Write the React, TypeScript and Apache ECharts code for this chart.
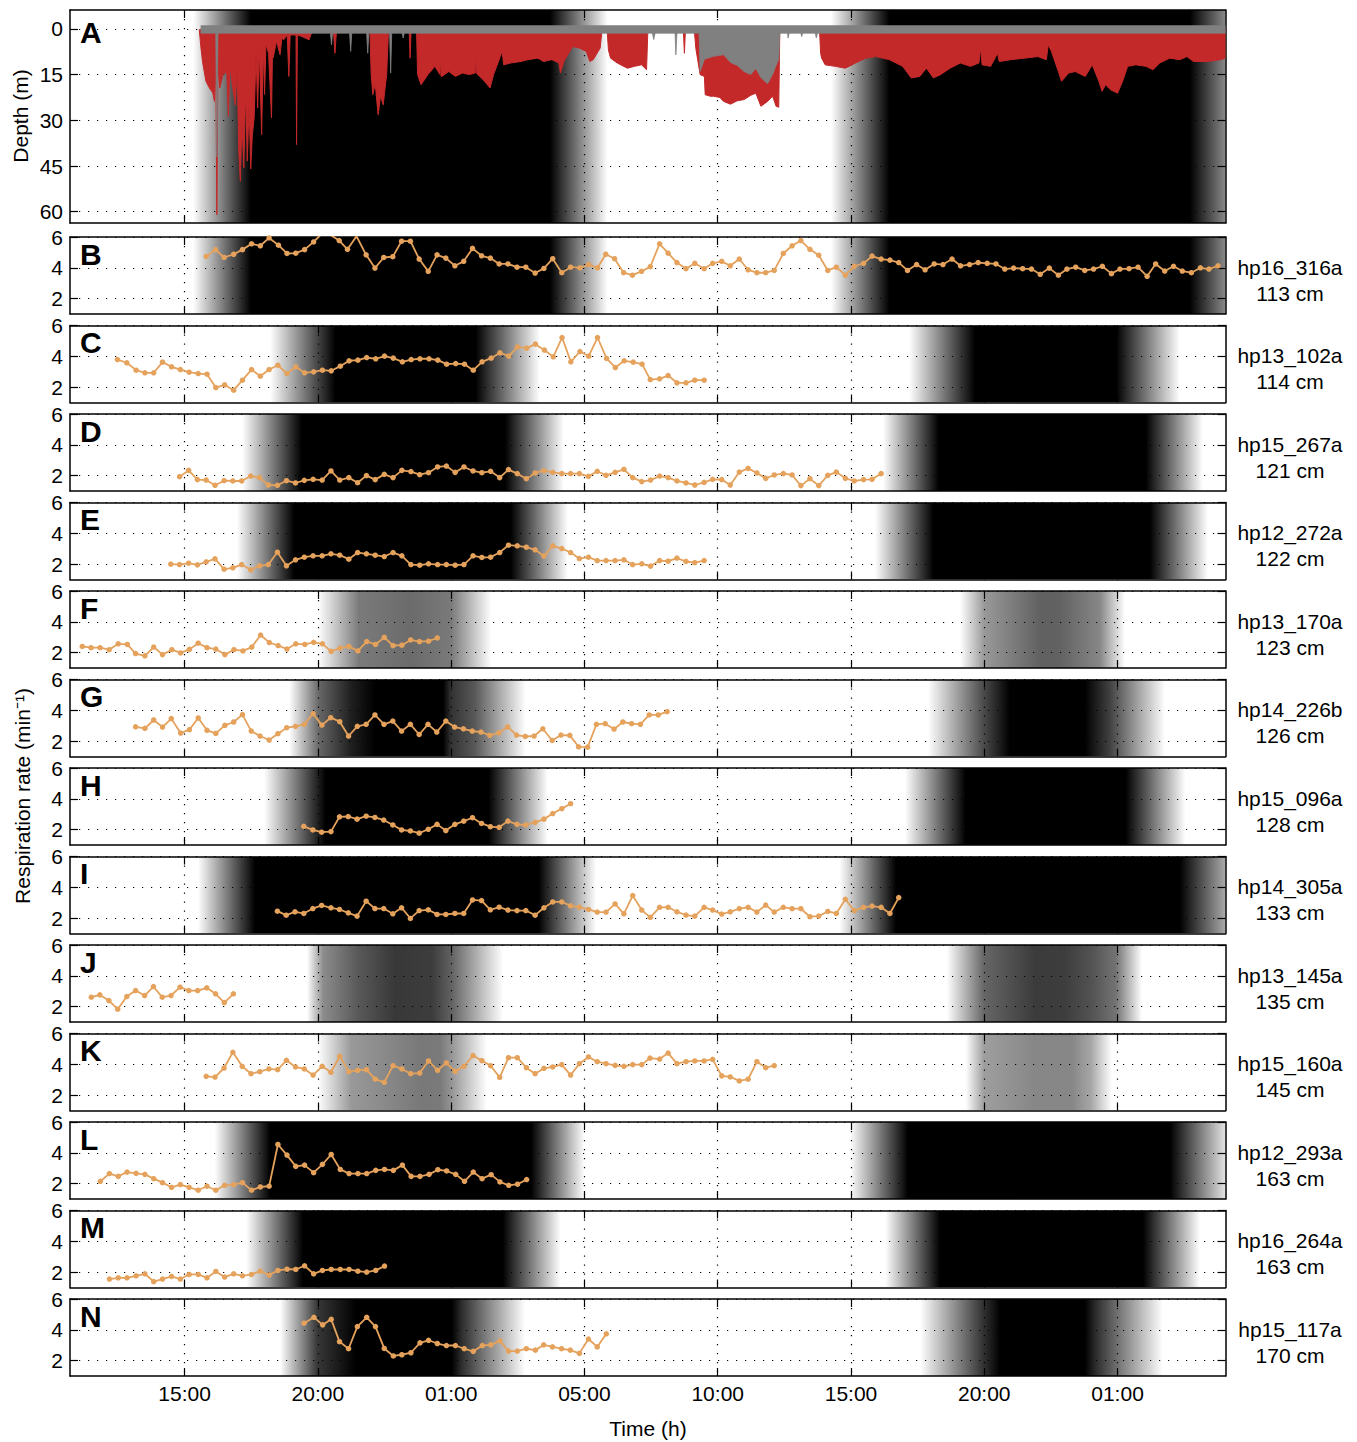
import React, { useEffect, useRef } from "react";
import * as echarts from "echarts";

const X_MIN = -4.3;
const X_MAX = 39.05;
const FONT = '"Liberation Sans", Arial, Helvetica, sans-serif';
const ORANGE = "#e5a25c";
const RED = "#c4292a";
const GRAY = "#808080";

const xTickValues = [0, 5, 10, 15, 20, 25, 30, 35];
const xTickLabels = ["15:00", "20:00", "01:00", "05:00", "10:00", "15:00", "20:00", "01:00"];
const depthTicks = [0, 15, 30, 45, 60];
const rateTicks = [2, 4, 6];

// Panel A: dive depth (m) vs time (h from first 15:00)
const diveRed = [
  [0.55,0.3],[0.61,6],[0.67,10.7],[0.8,17.2],[0.93,19.4],[1.06,21],[1.12,23.8],[1.17,12],[1.21,61],[1.25,12],[1.32,19.4],[1.44,15],[1.58,14],[1.64,28.7],[1.7,12],[1.77,17],[1.9,25],[1.97,12],[2.03,40],[2.09,50],[2.15,30],[2.22,45.6],[2.29,20],[2.35,43.4],[2.42,25],[2.48,46],[2.54,35],[2.61,29],[2.68,8],[2.74,26],[2.8,6],[2.89,34.7],[2.95,6],[3.0,21.5],[3.05,5],[3.15,8],[3.26,29.2],[3.3,5],[3.32,9.5],[3.45,4],[3.58,8.5],[3.65,3],[3.71,3.6],[3.85,2],[3.91,15.6],[3.96,2],[4.18,2],[4.2,38],[4.23,2],[4.4,2.5],[4.67,3.6],[4.8,0.3],
  [5.58,0.3],[5.64,8],[5.7,0.3],[6.95,0.3],[7.0,15],[7.06,21.6],[7.15,18],[7.26,28.2],[7.35,22],[7.45,24.9],[7.58,15],[7.65,0.3],[8.42,0.3],[8.46,9.6],[8.5,0.3],[8.7,0.3],[8.74,15],[8.87,18.3],[9.13,15],[9.39,12.3],[9.58,15],[9.6,8],[9.62,15.6],[9.65,15.6],[9.91,14],[10.16,15.6],[10.42,14.5],[10.68,15],[10.9,14.5],[10.92,6],[10.94,14.5],[11.2,16.7],[11.46,19.4],[11.59,15],[11.71,12.3],[11.91,7.4],[11.97,11.8],[12.23,11.2],[12.62,10.7],[12.88,10.1],[13.26,9.6],[13.46,10.7],[13.78,10.1],[14.04,11.2],[14.1,14.5],[14.23,10.7],[14.56,5.8],[14.81,6.3],[15.07,7.4],[15.2,10.7],[15.33,10.1],[15.59,6.3],[15.66,0.3],
  [15.85,0.3],[15.9,7],[15.98,9.6],[16.23,11.2],[16.61,12.9],[16.88,12.3],[17.14,11.8],[17.33,13.4],[17.38,0.3],[18.71,0.3],[18.75,8],[18.79,0.3],[19.12,0.3],[19.18,6.5],[19.34,15],[19.5,15.6],[19.53,21.6],[19.72,22.1],[19.84,22.1],[20.08,22.5],[20.22,23.8],[20.48,24.7],[20.73,23.6],[20.99,23.2],[21.24,21.8],[21.43,21.1],[21.62,25.4],[21.87,23.8],[22.06,22.1],[22.19,25.4],[22.29,25.7],[22.33,0.3],
  [23.82,0.3],[23.86,8],[23.9,9.6],[24.03,11.8],[24.41,12.3],[24.79,12.9],[25.17,11.2],[25.55,9.6],[25.93,9.1],[26.44,10.1],[26.94,12.3],[27.26,16.1],[27.58,15.6],[27.83,12.9],[28.09,16.1],[28.34,15.1],[28.72,12.9],[29.1,11.2],[29.48,12.3],[29.8,11.2],[29.86,6.3],[29.92,11.8],[30.24,12.3],[30.5,8],[30.56,10.7],[31.0,10.1],[31.51,9.6],[32.01,9.1],[32.33,10.1],[32.4,5.2],[32.52,7.4],[32.78,14],[32.9,17.2],[33.16,14.5],[33.41,14],[33.79,15.6],[34.05,11.8],[34.3,17.2],[34.42,20.5],[34.55,18.3],[34.74,20],[35.0,21.1],[35.19,17.2],[35.38,12.3],[35.69,11.8],[36.07,12.3],[36.33,13.4],[36.58,11.2],[36.96,9.6],[37.34,10.1],[37.6,9.1],[37.85,10.7],[38.36,10.7],[38.87,10.1],[39.05,9.6]
];
const diveGray = [
  [0.6,1.4],[1.17,1.4],[1.21,42],[1.25,1.4],[5.47,1.4],[5.51,5.2],[5.55,1.4],[6.19,1.4],[6.23,7.4],[6.27,1.4],[6.83,1.4],[6.87,8],[6.91,1.4],[7.69,1.4],[7.73,14.5],[7.77,1.4],[8.16,1.4],[8.2,3],[8.24,1.4],[17.55,1.4],[17.6,3.5],[17.65,1.4],[18.4,1.4],[18.43,8.5],[18.47,1.4],[19.3,1.4],[19.34,14],[19.5,10],[19.84,9],[20.22,8.5],[20.48,11],[20.73,12],[20.99,14],[21.24,15],[21.43,13],[21.62,16],[21.87,18],[22.06,15],[22.19,12],[22.29,10],[22.33,1.4],[22.62,1.4],[22.64,3],[22.68,1.4],[23.12,1.4],[23.15,2.5],[23.19,1.4],[23.66,1.4],[23.7,3],[23.74,1.4],[39.05,1.4]
];

// Respiration rates (min^-1)
const rateB = [[0.81,4.74],[1.16,5.18],[1.48,4.67],[1.84,4.88],[2.17,5.18],[2.51,5.56],[2.84,5.43],[3.17,5.94],[3.52,5.47],[3.84,4.93],[4.17,4.95],[4.5,5.18],[4.84,5.68],[5.17,6.25],[5.5,6.1],[5.8,5.77],[6.11,5.2],[6.45,6.05],[6.81,4.84],[7.14,3.98],[7.47,4.67],[7.81,4.72],[8.14,5.73],[8.47,5.73],[8.8,4.57],[9.14,3.77],[9.47,4.84],[9.8,4.63],[10.14,4.13],[10.47,4.42],[10.8,5.26],[11.14,4.78],[11.47,4.63],[11.8,4.25],[12.13,4.25],[12.47,4.04],[12.8,4.04],[13.15,3.66],[13.48,3.96],[13.81,4.59],[14.15,3.68],[14.48,4.04],[14.83,4.0],[15.16,4.21],[15.49,4.0],[15.8,4.88],[16.13,4.59],[16.47,3.68],[16.8,3.52],[17.14,3.77],[17.47,4.07],[17.82,5.56],[18.14,4.95],[18.47,4.34],[18.81,3.94],[19.14,4.29],[19.49,3.94],[19.81,4.29],[20.15,4.42],[20.47,4.13],[20.81,4.57],[21.14,3.87],[21.47,3.68],[21.8,3.68],[22.12,3.83],[22.46,4.93],[22.79,5.43],[23.12,5.77],[23.46,5.2],[23.79,4.82],[24.13,3.83],[24.45,4.04],[24.79,3.52],[25.12,4.1],[25.47,4.29],[25.79,4.76],[26.13,4.57],[26.46,4.5],[26.79,4.34],[27.12,3.83],[27.46,4.21],[27.78,3.87],[28.12,4.25],[28.45,4.21],[28.79,4.57],[29.11,4.13],[29.45,4.21],[29.77,4.34],[30.11,4.29],[30.44,4.25],[30.77,3.92],[31.1,3.98],[31.44,3.94],[31.77,3.92],[32.1,3.58],[32.44,3.98],[32.78,3.52],[33.1,3.92],[33.43,4.04],[33.77,3.83],[34.1,3.92],[34.43,4.1],[34.77,3.62],[35.09,3.92],[35.43,3.94],[35.77,4.04],[36.11,3.45],[36.43,4.25],[36.77,3.79],[37.1,4.1],[37.43,3.79],[37.77,3.68],[38.11,4.0],[38.43,3.92],[38.77,4.13]];
const rateC = [[-2.52,3.79],[-2.17,3.58],[-1.82,3.1],[-1.49,2.93],[-1.16,2.93],[-0.83,3.62],[-0.49,3.32],[-0.16,3.14],[0.17,2.97],[0.51,2.88],[0.84,2.84],[1.17,1.97],[1.5,2.15],[1.84,1.8],[2.17,2.45],[2.51,3.14],[2.84,2.71],[3.17,3.14],[3.5,3.42],[3.84,2.88],[4.17,3.32],[4.5,2.93],[4.84,2.99],[5.17,3.1],[5.5,3.06],[5.84,3.36],[6.17,3.71],[6.5,3.75],[6.83,3.92],[7.17,3.84],[7.5,4.01],[7.83,3.88],[8.17,3.64],[8.5,3.79],[8.83,3.84],[9.17,3.84],[9.5,3.75],[9.83,3.49],[10.17,3.53],[10.5,3.49],[10.83,3.1],[11.16,3.64],[11.5,3.88],[11.83,4.23],[12.16,4.01],[12.49,4.61],[12.83,4.53],[13.16,4.79],[13.5,4.4],[13.83,3.97],[14.16,5.22],[14.49,3.64],[14.83,4.31],[15.16,4.01],[15.49,5.22],[15.83,3.86],[16.16,3.27],[16.49,3.71],[16.83,3.62],[17.16,3.49],[17.47,2.49],[17.82,2.54],[18.14,2.75],[18.47,2.28],[18.81,2.28],[19.14,2.45],[19.49,2.45]];
const rateD = [[-0.19,1.93],[0.15,2.34],[0.48,1.74],[0.81,1.71],[1.14,1.37],[1.48,1.67],[1.81,1.65],[2.14,1.65],[2.48,1.97],[2.81,1.87],[3.14,1.39],[3.48,1.37],[3.82,1.67],[4.16,1.52],[4.49,1.69],[4.82,1.76],[5.16,1.71],[5.49,2.3],[5.82,1.71],[6.16,1.87],[6.49,1.54],[6.82,2.0],[7.15,1.74],[7.49,2.08],[7.82,1.87],[8.15,2.34],[8.49,2.26],[8.82,2.06],[9.15,2.19],[9.49,2.56],[9.82,2.62],[10.15,2.21],[10.48,2.56],[10.82,2.3],[11.15,2.19],[11.48,2.28],[11.82,1.87],[12.15,2.39],[12.48,2.13],[12.82,1.8],[13.15,2.17],[13.48,2.32],[13.81,2.21],[14.15,2.13],[14.48,2.13],[14.81,2.13],[15.15,1.95],[15.48,2.28],[15.81,2.02],[16.15,2.21],[16.48,2.41],[16.81,1.87],[17.15,1.61],[17.48,1.71],[17.82,1.97],[18.14,1.87],[18.47,1.65],[18.81,1.52],[19.14,1.39],[19.49,1.56],[19.81,1.76],[20.15,1.74],[20.47,1.39],[20.81,2.23],[21.14,2.47],[21.47,2.17],[21.8,1.82],[22.12,2.04],[22.46,2.13],[22.79,2.04],[23.12,1.35],[23.46,1.8],[23.79,1.35],[24.13,2.02],[24.45,2.23],[24.79,1.82],[25.12,1.65],[25.47,1.74],[25.79,1.76],[26.13,2.13]];
const rateE = [[-0.52,2.0],[-0.19,1.97],[0.15,2.06],[0.48,1.95],[0.81,2.15],[1.14,2.34],[1.48,1.67],[1.81,1.76],[2.14,1.97],[2.48,1.63],[2.81,1.89],[3.14,1.97],[3.48,2.77],[3.82,1.89],[4.16,2.28],[4.49,2.45],[4.82,2.54],[5.16,2.54],[5.49,2.67],[5.82,2.58],[6.16,2.32],[6.49,2.75],[6.82,2.67],[7.15,2.58],[7.49,2.49],[7.82,2.75],[8.15,2.54],[8.49,1.97],[8.82,1.93],[9.15,2.02],[9.49,1.97],[9.82,1.97],[10.15,1.93],[10.48,1.97],[10.82,2.54],[11.15,2.43],[11.48,2.45],[11.82,2.75],[12.15,3.23],[12.48,3.19],[12.82,3.1],[13.15,2.93],[13.48,2.52],[13.81,3.19],[14.15,3.01],[14.48,2.75],[14.81,2.36],[15.15,2.45],[15.48,2.23],[15.81,2.23],[16.15,2.23],[16.48,2.28],[16.81,1.97],[17.15,2.02],[17.48,1.87],[17.82,2.23],[18.14,2.19],[18.47,2.39],[18.81,2.17],[19.14,2.1],[19.49,2.23]];
const rateF = [[-3.84,2.4],[-3.51,2.32],[-3.17,2.32],[-2.83,2.19],[-2.49,2.57],[-2.15,2.53],[-1.84,1.94],[-1.49,1.79],[-1.16,2.36],[-0.83,1.87],[-0.48,2.19],[-0.15,1.98],[0.18,2.21],[0.51,2.61],[0.84,2.32],[1.17,2.23],[1.51,1.87],[1.85,2.19],[2.19,2.11],[2.52,2.36],[2.85,3.14],[3.18,2.65],[3.51,2.46],[3.84,2.23],[4.17,2.57],[4.51,2.53],[4.84,2.67],[5.17,2.57],[5.5,2.08],[5.83,2.29],[6.16,2.4],[6.5,2.11],[6.83,2.72],[7.16,2.53],[7.49,2.99],[7.82,2.46],[8.15,2.48],[8.48,2.82],[8.81,2.72],[9.15,2.74],[9.48,2.95]];
const rateG = [[-1.84,2.93],[-1.49,2.83],[-1.16,3.37],[-0.83,2.91],[-0.5,3.46],[-0.15,2.52],[0.18,2.74],[0.51,3.5],[0.84,2.7],[1.17,2.5],[1.51,3.02],[1.84,3.24],[2.17,3.72],[2.5,2.65],[2.83,2.33],[3.17,2.07],[3.5,2.48],[3.83,2.87],[4.16,2.96],[4.49,3.09],[4.82,3.78],[5.15,3.04],[5.48,3.52],[5.82,3.26],[6.15,2.33],[6.48,2.96],[6.81,3.09],[7.14,3.7],[7.48,3.09],[7.81,3.3],[8.14,2.65],[8.47,3.09],[8.8,2.43],[9.13,3.09],[9.46,2.59],[9.8,3.3],[10.13,2.91],[10.46,2.8],[10.79,2.65],[11.12,2.59],[11.45,2.37],[11.79,2.54],[12.12,2.93],[12.45,2.39],[12.78,2.3],[13.11,2.33],[13.44,2.8],[13.79,2.04],[14.12,2.39],[14.45,2.37],[14.78,1.63],[15.12,1.61],[15.45,3.09],[15.78,3.13],[16.11,2.78],[16.44,3.24],[16.77,3.13],[17.1,3.09],[17.43,3.7],[17.77,3.7],[18.1,3.91]];
const rateH = [[4.47,2.21],[4.81,1.98],[5.14,1.83],[5.49,1.87],[5.81,2.83],[6.14,2.85],[6.47,2.68],[6.81,2.87],[7.14,2.79],[7.47,2.62],[7.81,2.3],[8.14,1.98],[8.47,1.91],[8.8,1.77],[9.14,2.02],[9.47,2.34],[9.8,1.94],[10.14,2.34],[10.47,2.55],[10.8,2.77],[11.14,2.4],[11.47,2.19],[11.8,2.15],[12.13,2.55],[12.47,2.34],[12.8,2.3],[13.15,2.47],[13.48,2.68],[13.81,3.04],[14.15,3.36],[14.48,3.68]];
const rateI = [[3.48,2.45],[3.81,2.19],[4.14,2.41],[4.47,2.3],[4.81,2.62],[5.14,2.82],[5.49,2.67],[5.81,2.56],[6.14,2.34],[6.47,2.13],[6.81,3.1],[7.14,2.62],[7.47,2.62],[7.81,2.28],[8.14,2.67],[8.47,1.98],[8.8,2.49],[9.14,2.54],[9.47,2.24],[9.8,2.24],[10.14,2.3],[10.47,2.3],[10.8,3.18],[11.14,3.14],[11.47,2.54],[11.8,2.71],[12.13,2.52],[12.47,2.49],[12.8,2.49],[13.15,2.19],[13.48,2.67],[13.81,3.05],[14.15,3.05],[14.48,2.8],[14.81,2.71],[15.15,2.56],[15.48,2.39],[15.81,2.39],[16.15,2.92],[16.48,2.28],[16.81,3.46],[17.15,2.52],[17.47,2.05],[17.82,2.7],[18.14,2.7],[18.47,2.41],[18.81,2.2],[19.14,2.13],[19.49,2.7],[19.81,2.52],[20.15,2.26],[20.47,2.41],[20.81,2.61],[21.14,2.7],[21.47,2.39],[21.8,2.85],[22.12,2.39],[22.46,2.7],[22.79,2.61],[23.12,2.61],[23.46,2.09],[23.79,2.13],[24.13,2.43],[24.45,2.3],[24.79,3.22],[25.12,2.48],[25.47,2.7],[25.79,2.78],[26.13,2.7],[26.46,2.3],[26.79,3.33]];
const rateJ = [[-3.5,2.61],[-3.18,2.76],[-2.84,2.39],[-2.51,1.83],[-2.17,2.65],[-1.84,3.04],[-1.5,2.72],[-1.17,3.3],[-0.84,2.61],[-0.51,2.72],[-0.17,3.26],[0.16,3.04],[0.49,3.04],[0.83,3.22],[1.16,2.83],[1.49,2.26],[1.83,2.83]];
const rateK = [[0.81,3.22],[1.14,3.17],[1.48,3.76],[1.81,4.78],[2.16,3.87],[2.49,3.39],[2.82,3.52],[3.16,3.7],[3.49,3.65],[3.82,4.26],[4.16,3.83],[4.49,3.7],[4.82,3.3],[5.16,3.87],[5.49,3.48],[5.82,4.52],[6.16,3.52],[6.49,3.61],[6.82,3.65],[7.15,3.04],[7.49,2.83],[7.82,3.91],[8.15,3.7],[8.48,3.39],[8.82,3.43],[9.15,4.22],[9.49,3.61],[9.82,4.09],[10.15,3.54],[10.48,3.87],[10.82,4.57],[11.15,4.24],[11.48,3.91],[11.82,3.15],[12.15,4.43],[12.48,4.43],[12.82,3.78],[13.15,3.39],[13.48,3.74],[13.81,3.83],[14.15,3.98],[14.48,3.3],[14.81,4.04],[15.15,4.48],[15.48,4.17],[15.81,4.04],[16.15,3.93],[16.48,3.87],[16.81,3.98],[17.15,3.98],[17.46,4.4],[17.82,4.34],[18.14,4.73],[18.47,4.04],[18.81,4.17],[19.14,4.22],[19.49,4.22],[19.81,4.32],[20.15,3.25],[20.47,3.18],[20.81,2.92],[21.14,3.03],[21.47,4.17],[21.8,3.78],[22.12,3.91]];
const rateL = [[-3.16,2.15],[-2.82,2.65],[-2.49,2.47],[-2.16,2.75],[-1.82,2.67],[-1.49,2.6],[-1.16,2.32],[-0.83,2.06],[-0.49,1.76],[-0.16,1.94],[0.17,1.76],[0.51,1.57],[0.84,1.83],[1.17,1.57],[1.5,1.89],[1.84,1.94],[2.17,2.06],[2.51,1.57],[2.84,1.78],[3.17,1.83],[3.5,4.54],[3.84,3.85],[4.17,3.12],[4.5,3.2],[4.84,2.71],[5.17,3.25],[5.5,3.89],[5.84,2.92],[6.17,2.65],[6.5,2.65],[6.83,2.65],[7.17,2.86],[7.5,2.92],[7.83,2.86],[8.17,3.2],[8.5,2.47],[8.83,2.47],[9.17,2.6],[9.5,2.9],[9.83,2.82],[10.17,2.6],[10.5,2.15],[10.83,2.75],[11.16,2.32],[11.5,2.58],[11.83,2.11],[12.16,1.89],[12.49,1.96],[12.83,2.26]];
const rateM = [[-2.82,1.55],[-2.49,1.63],[-2.16,1.63],[-1.82,1.76],[-1.49,1.89],[-1.16,1.38],[-0.83,1.55],[-0.49,1.72],[-0.16,1.55],[0.17,1.85],[0.51,1.85],[0.84,1.63],[1.17,2.04],[1.5,1.68],[1.84,1.89],[2.17,1.76],[2.51,1.85],[2.84,2.06],[3.17,1.81],[3.5,2.11],[3.84,2.19],[4.17,2.17],[4.5,2.41],[4.84,1.89],[5.17,2.11],[5.5,2.17],[5.84,2.17],[6.17,2.17],[6.5,2.06],[6.83,2.0],[7.17,2.11],[7.5,2.39]];
const rateN = [[4.48,4.43],[4.85,4.81],[5.18,4.32],[5.5,4.68],[5.81,3.23],[6.15,2.77],[6.48,4.21],[6.83,4.81],[7.16,4.21],[7.49,2.79],[7.83,2.3],[8.15,2.38],[8.49,2.51],[8.83,3.15],[9.15,3.32],[9.48,3.11],[9.82,2.98],[10.16,2.98],[10.49,2.77],[10.83,2.6],[11.17,2.98],[11.49,3.02],[11.83,3.28],[12.15,2.62],[12.48,2.62],[12.82,2.77],[13.16,2.68],[13.47,3.02],[13.8,2.89],[14.14,2.77],[14.47,2.68],[14.81,2.47],[15.15,3.4],[15.48,2.89],[15.82,3.74]];

// Night shading: per night, [time, darkness 0..1] stops
const nightsA = [[[0.32,0],[2.49,1],[13.71,1],[15.87,0]], [[24.25,0],[26.44,1],[37.72,1],[40.2,0]]];
const nightsB = [[[0.32,0],[2.49,1],[13.71,1],[15.87,0]], [[24.25,0],[26.44,1],[37.72,1],[40.2,0]]];
const nightsC = [[[3.21,0],[5.65,1],[10.92,1],[13.33,0]], [[27.18,0],[29.65,1],[34.94,1],[37.34,0]]];
const nightsD = [[[2.16,0],[4.39,1],[12.02,1],[14.23,0]], [[26.2,0],[28.3,1],[36.06,1],[38.2,0]]];
const nightsE = [[[1.96,0],[4.11,1],[12.24,1],[14.38,0]], [[25.9,0],[28.1,1],[36.21,1],[38.39,0]]];
const nightsF = [[[5.0,0],[6.55,0.52],[8.5,0.58],[10.0,0.52],[11.52,0]], [[29.09,0],[30.0,0.4],[32.1,0.62],[32.8,0.62],[34.34,0.47],[35.28,0]]];
const nightsG = [[[3.92,0],[5.05,0.6],[6.25,0.88],[7.15,1],[9.7,1],[10.0,0.8],[10.9,0.65],[12.8,0]], [[27.88,0],[29.95,0.7],[30.96,1],[33.77,1],[34.7,0.75],[36.78,0]]];
const nightsH = [[[2.98,0],[5.29,1],[11.4,1],[13.63,0]], [[27.02,0],[29.3,1],[35.3,1],[37.55,0]]];
const nightsI = [[[0.5,0],[2.64,1],[13.28,1],[15.44,0]], [[24.57,0],[26.69,1],[37.34,1],[39.9,0]]];
const nightsJ = [[[4.59,0],[5.2,0.45],[6.5,0.65],[7.9,0.78],[9.3,0.76],[10.0,0.62],[11.95,0]], [[28.59,0],[29.99,0.6],[31.9,0.77],[33.0,0.76],[34.0,0.68],[34.94,0.55],[35.92,0]]];
const nightsK = [[[5.0,0],[6.25,0.4],[8.9,0.53],[9.6,0.52],[10.0,0.42],[11.34,0]], [[29.3,0],[29.99,0.38],[31.9,0.47],[33.3,0.47],[34.0,0.35],[34.79,0]]];
const nightsL = [[[1.12,0],[3.21,1],[13.0,1],[15.01,0]], [[24.96,0],[27.14,1],[36.97,1],[39.3,0]]];
const nightsM = [[[2.31,0],[4.44,1],[11.94,1],[14.11,0]], [[26.28,0],[28.34,1],[35.96,1],[38.09,0]]];
const nightsN = [[[3.58,0],[4.97,0.78],[6.43,1],[10.02,1],[10.4,0.82],[12.77,0]], [[27.59,0],[29.95,0.8],[30.6,1],[33.77,1],[34.2,0.82],[36.7,0]]];

const panelLetters = ["B","C","D","E","F","G","H","I","J","K","L","M","N"];
const panelIds = ["hp16_316a","hp13_102a","hp15_267a","hp12_272a","hp13_170a","hp14_226b","hp15_096a","hp14_305a","hp13_145a","hp15_160a","hp12_293a","hp16_264a","hp15_117a"];
const panelDepths = ["113 cm","114 cm","121 cm","122 cm","123 cm","126 cm","128 cm","133 cm","135 cm","145 cm","163 cm","163 cm","170 cm"];
const panelRates = [rateB, rateC, rateD, rateE, rateF, rateG, rateH, rateI, rateJ, rateK, rateL, rateM, rateN];
const panelNights = [nightsB, nightsC, nightsD, nightsE, nightsF, nightsG, nightsH, nightsI, nightsJ, nightsK, nightsL, nightsM, nightsN];

function grayOf(d: number) {
  const v = Math.round(255 * (1 - Math.max(0, Math.min(1, d))));
  return `rgb(${v},${v},${v})`;
}

function clampStops(stops: number[][], lo: number, hi: number) {
  const out: number[][] = [];
  for (let i = 0; i < stops.length; i++) {
    const [t, d] = stops[i];
    if (t >= lo && t <= hi) out.push([t, d]);
    if (i < stops.length - 1) {
      const [t2, d2] = stops[i + 1];
      if (t < lo && t2 > lo) out.push([lo, d + ((d2 - d) * (lo - t)) / (t2 - t)]);
      if (t < hi && t2 > hi) out.push([hi, d + ((d2 - d) * (hi - t)) / (t2 - t)]);
    }
  }
  return out.sort((a, b) => a[0] - b[0]);
}

function buildOption() {
  const grids: any[] = [];
  const xAxes: any[] = [];
  const yAxes: any[] = [];
  const series: any[] = [];
  const texts: any[] = [];

  const axisLine = { show: true, onZero: false, lineStyle: { color: "#000", width: 1.5 } };
  const tick = (vals: number[]) => ({ show: true, inside: true, length: 8, customValues: vals, lineStyle: { color: "#000", width: 1.2 } });
  const split = { show: true, lineStyle: { color: "#000", width: 1.2, type: [1.2, 7.8] } };
  const labelStyle = { color: "#000", fontSize: 21, fontFamily: FONT };
  const txt = (text: string, x: number, y: number, size: number, bold: boolean, align: string, rotation = 0) => ({
    type: "text", x, y, rotation, z: 10,
    style: { text, font: `${bold ? "bold " : ""}${size}px ${FONT}`, fill: "#000", align, verticalAlign: "middle", textAlign: align, textVerticalAlign: "middle" },
  });

  const addGrid = (top: number, height: number, yMin: number, yMax: number, yTicks: number[], inverse: boolean, showX: boolean, yRef: number, nights: number[][][]) => {
    const gi = grids.length;
    grids.push({ left: 70, top, width: 1155.5, height, show: false });
    xAxes.push({
      type: "value", gridIndex: gi, position: "bottom", min: X_MIN, max: X_MAX, z: 2,
      axisLine, axisTick: tick(xTickValues),
      axisLabel: { show: showX, customValues: xTickValues, formatter: (v: number) => xTickLabels[Math.round(v / 5)] ?? "", margin: 7, ...labelStyle },
      splitLine: split,
    });
    xAxes.push({
      type: "value", gridIndex: gi, position: "top", min: X_MIN, max: X_MAX, z: 2,
      axisLine, axisTick: tick(xTickValues), axisLabel: { show: false }, splitLine: { show: false },
    });
    yAxes.push({
      type: "value", gridIndex: gi, position: "left", min: yMin, max: yMax, inverse, z: 2,
      axisLine, axisTick: tick(yTicks),
      axisLabel: { show: true, customValues: yTicks, margin: 7, ...labelStyle },
      splitLine: split,
    });
    yAxes.push({
      type: "value", gridIndex: gi, position: "right", min: yMin, max: yMax, inverse, z: 2,
      axisLine, axisTick: tick(yTicks), axisLabel: { show: false }, splitLine: { show: false },
    });
    const ai = 2 * gi;
    series.push({
      type: "custom", xAxisIndex: ai, yAxisIndex: ai, z: 1, silent: true, clip: true,
      data: nights.map((n) => [n[0][0], n[n.length - 1][0], yRef]),
      encode: { x: [0, 1], y: 2 },
      renderItem: (params: any, api: any) => {
        const stops = clampStops(nights[params.dataIndex], X_MIN, X_MAX);
        if (stops.length < 2) return null;
        const cs = params.coordSys;
        const t0 = stops[0][0];
        const t1 = stops[stops.length - 1][0];
        const xa = api.coord([t0, yRef])[0];
        const xb = api.coord([t1, yRef])[0];
        return {
          type: "rect",
          shape: { x: xa, y: cs.y, width: xb - xa, height: cs.height },
          style: {
            fill: new echarts.graphic.LinearGradient(0, 0, 1, 0,
              stops.map(([t, d]) => ({ offset: (t - t0) / (t1 - t0), color: grayOf(d) }))),
          },
        };
      },
    });
    return ai;
  };

  // Panel A
  const aIdx = addGrid(10, 213, -6.2, 63.7, depthTicks, true, false, 10, nightsA);
  series.push({
    type: "line", xAxisIndex: aIdx, yAxisIndex: aIdx, data: diveRed, symbol: "none", silent: true, clip: true, z: 3,
    lineStyle: { color: RED, width: 1 }, areaStyle: { color: RED, opacity: 1, origin: 0 },
  });
  series.push({
    type: "line", xAxisIndex: aIdx, yAxisIndex: aIdx, data: diveGray, symbol: "none", silent: true, clip: true, z: 4,
    lineStyle: { color: GRAY, width: 0.8 }, areaStyle: { color: GRAY, opacity: 1, origin: -1.2 },
  });
  texts.push(txt("A", 80, 32, 30, true, "left"));

  panelRates.forEach((data, i) => {
    const top = 237 + i * 88.5;
    const idx = addGrid(top, 77, 1, 6, rateTicks, false, i === panelRates.length - 1, 3, panelNights[i]);
    series.push({
      type: "line", xAxisIndex: idx, yAxisIndex: idx, data, symbol: "circle", symbolSize: 5.5, showSymbol: true,
      silent: true, clip: true, z: 5,
      lineStyle: { color: ORANGE, width: 1.8 }, itemStyle: { color: ORANGE, borderWidth: 0 },
    });
    texts.push(txt(panelLetters[i], 80, top + 17, 30, true, "left"));
    texts.push(txt(panelIds[i], 1290, top + 30, 21, false, "center"));
    texts.push(txt(panelDepths[i], 1290, top + 56, 21, false, "center"));
  });

  texts.push(txt("Depth (m)", 20, 116, 21, false, "center", Math.PI / 2));
  texts.push(txt("Respiration rate (min\u207B\u00B9)", 22, 796, 21, false, "center", Math.PI / 2));
  texts.push(txt("Time (h)", 648, 1428, 21, false, "center"));

  return {
    animation: false,
    backgroundColor: "#fff",
    grid: grids,
    xAxis: xAxes,
    yAxis: yAxes,
    series,
    graphic: { elements: texts },
  };
}

export default function App() {
  const ref = useRef<HTMLDivElement>(null);
  useEffect(() => {
    document.body.style.margin = "0";
    const chart = echarts.init(ref.current as HTMLDivElement, null, { renderer: "svg" });
    chart.setOption(buildOption() as any);
    return () => chart.dispose();
  }, []);
  return <div ref={ref} style={{ width: 1357, height: 1442 }} />;
}
